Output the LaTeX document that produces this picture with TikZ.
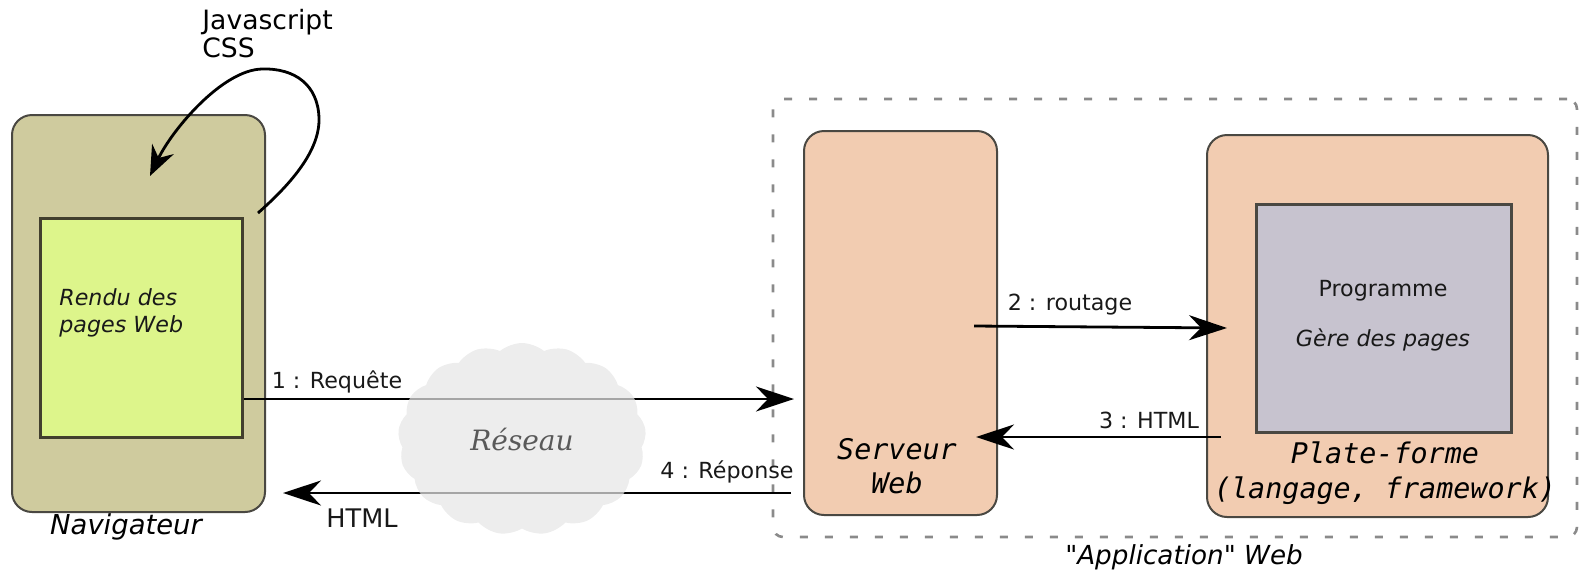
\documentclass[tikz,border=0pt]{standalone}
\usepackage{fontspec}
\setmainfont{DejaVu Sans}
\newfontfamily\monofont{DejaVu Sans Mono}
\newfontfamily\seriffont{DejaVu Serif}
\usepackage{tikz}
\usetikzlibrary{arrows.meta,fit,shapes.symbols}
\definecolor{navkhaki}{HTML}{CFCB9E}
\definecolor{pagegreen}{HTML}{DDF58B}
\definecolor{srvpeach}{HTML}{F2CCB1}
\definecolor{proggray}{HTML}{C7C3CF}
\definecolor{boxline}{HTML}{4A4842}
\definecolor{dashgray}{HTML}{8A8A8A}
\definecolor{cloudgray}{HTML}{E6E6E6}

\begin{document}
\begin{tikzpicture}[
  x=0.5pt, y=-0.5pt,
  lab/.style={font=\fontsize{11.1}{13}\selectfont, text=black!90, inner sep=0pt},
  biglab/.style={font=\fontsize{13.3}{14}\selectfont\itshape, inner sep=0pt},
  box/.style={draw=boxline, line width=1pt, inner sep=0pt, rounded corners=10pt},
  navbox/.style={box, fill=navkhaki},
  srvbox/.style={box, fill=srvpeach},
  inbox/.style={draw=boxline, line width=1.5pt, inner sep=0pt},
  mono/.style={font=\fontsize{14.2}{17.3}\selectfont\monofont\itshape, align=center, inner sep=0pt},
  appbox/.style={draw=dashgray, line width=1.3pt, dash pattern=on 4pt off 8.5pt, rounded corners=5pt, inner sep=0pt},
  arr/.style={-{Stealth[length=19pt, width=12.5pt, inset=6pt]}, line width=1.4pt},
]
\useasboundingbox (0,0) rectangle (1580,569);

% ---- client side ----
\node[navbox, fit={(12,115) (265,512)}] (nav) {};
\node[inbox, fill=pagegreen, draw=black!70!olive, fit={(40,218) (242,437)}] (rendu) {};
\node[lab, anchor=west, align=left, font=\fontsize{11.1}{13.5}\selectfont\itshape] (rendutxt) at (59,313) {Rendu des\\pages Web};
\node[biglab, font=\fontsize{13.7}{14}\selectfont\itshape] (navlab) at (126,527) {Navigateur};
\node[anchor=west, align=left, inner sep=0pt, font=\fontsize{13.3}{14}\selectfont] (js) at (202,34) {Javascript\\CSS};

\coordinate (jsout) at (258,213);
\draw[arr, -{Stealth[length=15pt, width=12pt, inset=5pt]}] (jsout)
  .. controls (292,183) and (320,150) .. (319,118)
  .. controls (318,85) and (295,68) .. (262,69)
  .. controls (222,70) and (172,130) .. (150,176);

% ---- server side ----
\node[appbox, fit={(773,99) (1577,537)}] (app) {};
\node[biglab, font=\fontsize{13.1}{14}\selectfont\itshape] (applab) at (1184,557) {\textquotedbl Application\textquotedbl{} Web};
\node[srvbox, fit={(804,131) (997,515)}] (serveur) {};
\node[mono] (srvtxt) at (897,466) {Serveur\\Web};
\node[srvbox, fit={(1207,135) (1548,517)}] (plat) {};
\node[inbox, fill=proggray, fit={(1256,204) (1511,432)}] (prog) {};
\node[lab] (progtxt) at (1383,291) {Programme};
\node[lab, font=\fontsize{11.1}{13}\selectfont\itshape] (gere) at (1383,340) {Gère des pages};
\node[mono] (plattxt) at (1385,473) {Plate-forme\\(langage, framework)};

% ---- exchanges ----
\draw[arr] (rendu.east |- 0,399) -- ([xshift=-4.5pt]serveur.west |- 0,399);
\node[lab] (l1) at (337,382) {1 : Requête};
\draw[arr] ([xshift=-12pt]serveur.east |- 0,326) -- ([xshift=10.5pt]plat.west |- 0,328);
\node[lab] (l2) at (1070,305) {2 : routage};
\draw[arr] ([xshift=7.5pt]plat.west |- 0,437) -- ([xshift=-11pt]serveur.east |- 0,437);
\node[lab] (l3) at (1149,420) {3 : HTML};
\draw[arr] ([xshift=-6pt]serveur.west |- 0,493) -- ([xshift=8.5pt]nav.east |- 0,493);
\node[lab] (l4) at (727,472) {4 : Réponse};
\node[lab, font=\fontsize{12.8}{14}\selectfont] (l4b) at (362,518) {HTML};

% ---- network cloud over the two wires ----
\node[cloud, cloud puffs=17, cloud puff arc=80, aspect=1.3, fill=cloudgray, fill opacity=0.72, text opacity=1,
      minimum width=124pt, minimum height=96pt, inner sep=0pt,
      font=\fontsize{14}{16}\selectfont\seriffont\itshape, text=black!65] (reseau) at (522,439) {Réseau};
\end{tikzpicture}
\end{document}
